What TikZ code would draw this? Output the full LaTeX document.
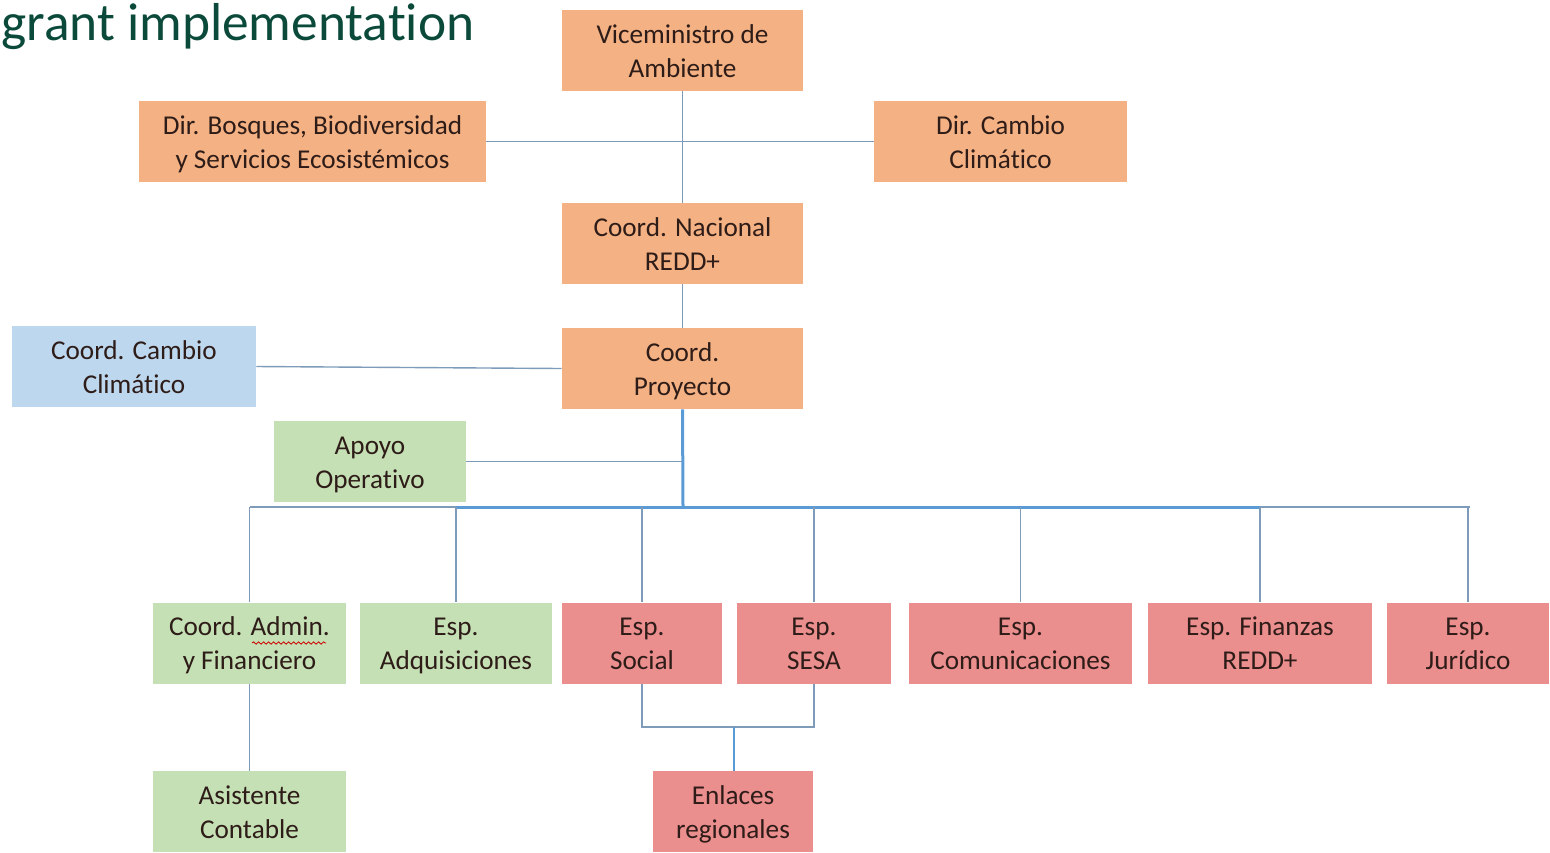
\documentclass[tikz,border=0pt]{standalone}
\usepackage{fontspec}
\setmainfont[Ligatures=NoCommon]{Carlito}
\usetikzlibrary{decorations.pathmorphing}
\definecolor{orgfill}{HTML}{F4B183}
\definecolor{bluefill}{HTML}{BDD7EE}
\definecolor{greenfill}{HTML}{C5E0B4}
\definecolor{redfill}{HTML}{EA8E8E}
\definecolor{txt}{HTML}{2E1C18}
\definecolor{thinln}{HTML}{7E9CBA}
\definecolor{thickln}{HTML}{5B9BD5}
\definecolor{titlecol}{HTML}{0B4A3A}
\newcommand\lnstrut{\rule[-3.75pt]{0pt}{17pt}}
\tikzset{
  box/.style={inner sep=0pt, minimum height=40.5pt, align=center, text=txt,
    font=\fontsize{13.6}{17}\selectfont},
  obox/.style={box, fill=orgfill},
  bbox/.style={box, fill=bluefill},
  gbox/.style={box, fill=greenfill},
  rbox/.style={box, fill=redfill},
  thin/.style={draw=thinln, line width=0.7pt},
  thick/.style={draw=thickln, line width=1.5pt},
}
\begin{document}
\begin{tikzpicture}[x=0.5pt,y=-0.5pt]
\useasboundingbox (0,0) rectangle (1550,852);
\node[anchor=base west, inner sep=0pt, text=titlecol, font=\fontsize{26.7}{30}\selectfont] (title) at (1,40) {grant implementation};

\node[obox, minimum width=120.5pt] (vice) at (682.5,50.5) {\lnstrut Viceministro de\\\lnstrut Ambiente};
\node[obox, minimum width=173.5pt] (bosq) at (312.5,141.5) {\lnstrut Dir. Bosques, Biodiversidad\\\lnstrut y Servicios Ecosistémicos};
\node[obox, minimum width=126.5pt] (dcc) at (1000.5,141.5) {\lnstrut Dir. Cambio\\\lnstrut Climático};
\node[obox, minimum width=120.5pt] (nac) at (682.5,243.5) {\lnstrut Coord. Nacional\\\lnstrut REDD+};
\node[bbox, minimum width=122pt] (ccc) at (134,366.5) {\lnstrut Coord. Cambio\\\lnstrut Climático};
\node[obox, minimum width=120.5pt] (proy) at (682.5,368.5) {\lnstrut Coord.\\\lnstrut Proyecto};
\node[gbox, minimum width=96pt] (apoyo) at (370,461.5) {\lnstrut Apoyo\\\lnstrut Operativo};

\node[gbox, minimum width=96.5pt] (admin) at (249.5,643) {\lnstrut Coord. Admin.\\\lnstrut y Financiero};
\node[gbox, minimum width=96pt] (adq) at (456,643) {\lnstrut Esp.\\\lnstrut Adquisiciones};
\node[rbox, minimum width=80pt] (social) at (642,643) {\lnstrut Esp.\\\lnstrut Social};
\node[rbox, minimum width=77pt] (sesa) at (814,643) {\lnstrut Esp.\\\lnstrut SESA};
\node[rbox, minimum width=111.5pt] (comu) at (1020.5,643) {\lnstrut Esp.\\\lnstrut Comunicaciones};
\node[rbox, minimum width=112pt] (fin) at (1260,643) {\lnstrut Esp. Finanzas\\\lnstrut REDD+};
\node[rbox, minimum width=81pt] (jur) at (1468,643) {\lnstrut Esp.\\\lnstrut Jurídico};

\node[gbox, minimum width=96.5pt] (asis) at (249.5,811.5) {\lnstrut Asistente\\\lnstrut Contable};
\node[rbox, minimum width=80pt] (enl) at (733,811.5) {\lnstrut Enlaces\\\lnstrut regionales};

% spell-check squiggle under "Admin."
\draw[red!80!black, line width=0.4pt, decorate, decoration={snake, amplitude=0.6pt, segment length=2.5pt}] (252,643) -- (326,643);

% connectors
\draw[thin] (vice.south) -- (nac.north);
\draw[thin] (bosq.east) -- (dcc.west);
\draw[thin] (nac.south) -- (proy.north);
\draw[thin] (ccc.east) -- (proy.west);
\coordinate (busc) at (683,507);
\coordinate (busl) at (250,507);
\coordinate (busr) at (1470,507);
\draw[thin] (apoyo.east) -- (apoyo.east -| busc);
\draw[thin] (busl) -- (busr);
\draw[thick] (proy.south) -- (busc);
\draw[thick] (adq.north |- busc) -- (fin.north |- busc);
\draw[thin] (admin.north |- busc) -- (admin.north);
\draw[thin] (adq.north |- busc) -- (adq.north);
\draw[thin] (social.north |- busc) -- (social.north);
\draw[thin] (sesa.north |- busc) -- (sesa.north);
\draw[thin] (comu.north |- busc) -- (comu.north);
\draw[thin] (fin.north |- busc) -- (fin.north);
\draw[thin] (jur.north |- busc) -- (jur.north);
\draw[thin] (admin.south) -- (asis.north);
\coordinate (join) at (734,727);
\draw[thin] (social.south) |- (join) -| (sesa.south);
\draw[thick, line width=1.2pt] (join) -- (join |- enl.north);
\end{tikzpicture}
\end{document}
